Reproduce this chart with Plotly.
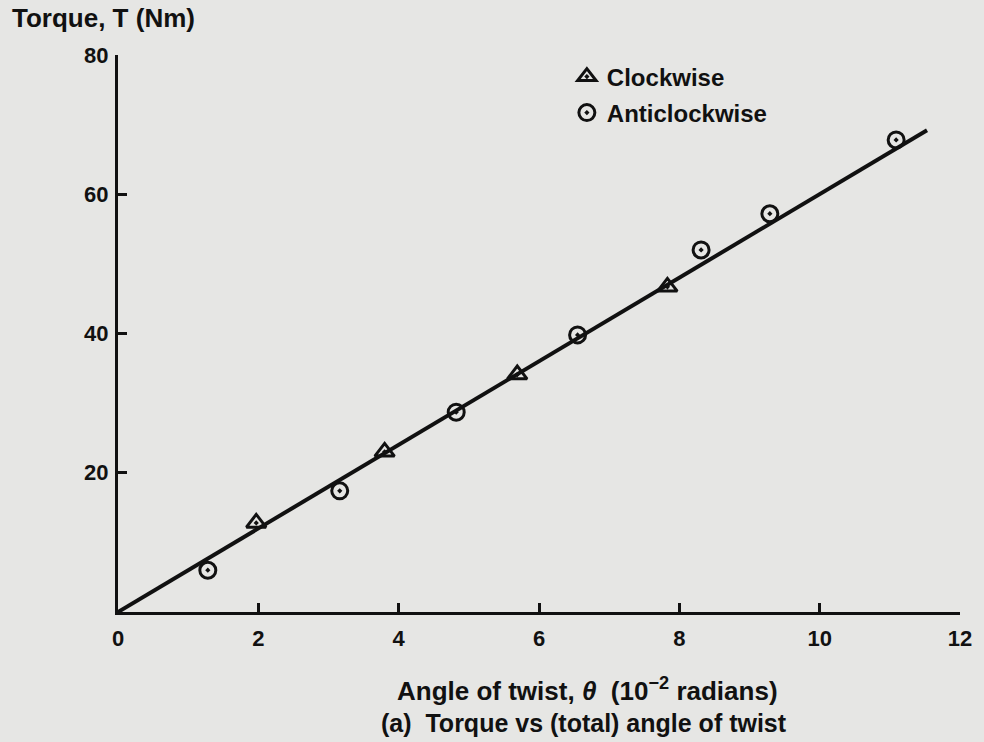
import plotly.graph_objects as go

# Data
cw_angle = [1.97, 3.80, 5.69, 7.83]          # 10^-2 rad
cw_torque = [12.8, 23.0, 34.1, 46.7]          # Nm
acw_angle = [1.28, 3.16, 4.82, 6.55, 8.31, 9.29, 11.09]
acw_torque = [6.0, 17.4, 28.7, 39.8, 52.0, 57.2, 67.8]
fit_angle = [0.0, 11.53]
fit_torque = [0.0, 69.2]

x_ticks = [0, 2, 4, 6, 8, 10, 12]
y_ticks = [20, 40, 60, 80]

BG = "#e6e6e4"
INK = "#111111"
FONT = "Liberation Sans"

W, H = 984, 742
ML, MR, MT, MB = 118, 20, 55, 130
PW, PH = W - ML - MR, H - MT - MB


def px2paper(px, py):
    return (px - ML) / PW, (H - MB - py) / PH


fig = go.Figure()
fig.add_trace(go.Scatter(x=fit_angle, y=fit_torque, mode="lines",
                         line=dict(color=INK, width=4), showlegend=False,
                         hoverinfo="skip"))
fig.add_trace(go.Scatter(x=cw_angle, y=cw_torque, mode="markers", name="<b>Clockwise</b>",
                         legend="legend",
                         marker=dict(symbol="triangle-up-open-dot", size=17,
                                     color=INK, line=dict(color=INK, width=3))))
fig.add_trace(go.Scatter(x=acw_angle, y=acw_torque, mode="markers", name="<b>Anticlockwise</b>",
                         legend="legend2",
                         marker=dict(symbol="circle-open-dot", size=16,
                                     color=INK, line=dict(color=INK, width=3))))

lx, ly1 = px2paper(569, 77)
_, ly2 = px2paper(569, 113)
leg_common = dict(xanchor="left", yanchor="middle", bgcolor="rgba(0,0,0,0)",
                  font=dict(size=24, family=FONT, color=INK), itemsizing="trace")

fig.update_layout(
    width=W, height=H,
    paper_bgcolor=BG, plot_bgcolor=BG,
    margin=dict(l=ML, r=MR, t=MT, b=MB),
    font=dict(family=FONT, size=22, color=INK),
    legend=dict(x=lx, y=ly1, **leg_common),
    legend2=dict(x=lx, y=ly2, **leg_common),
    xaxis=dict(range=[0, 12], tickvals=x_ticks, ticktext=[f"<b>{v}</b>" for v in x_ticks],
               showgrid=False, zeroline=False, showline=True, linecolor=INK, linewidth=3,
               ticks="inside", ticklen=9, tickwidth=3, tickcolor=INK, ticklabelstandoff=5),
    yaxis=dict(range=[0, 80], tickvals=y_ticks, ticktext=[f"<b>{v}</b>" for v in y_ticks],
               showgrid=False, zeroline=False, showline=True, linecolor=INK, linewidth=3,
               ticks="inside", ticklen=9, tickwidth=3, tickcolor=INK, ticklabelstandoff=2),
)

anns = [
    ("<b>Torque, T (Nm)</b>", 9, 18, "left", 26),
    ("<b>Angle of twist, <i>θ</i>  (10<sup>−2</sup> radians)</b>", 590, 689, "center", 26),
    ("<b>(a)  Torque vs (total) angle of twist</b>", 586, 723, "center", 25),
]
for text, px, py, xa, fs in anns:
    x, y = px2paper(px, py)
    fig.add_annotation(text=text, x=x, y=y, xref="paper", yref="paper", showarrow=False,
                       xanchor=xa, yanchor="middle", font=dict(size=fs, family=FONT, color=INK))

fig.write_html("out.html", config={"displayModeBar": False},
               post_script="document.body.style.margin='0';document.body.style.background='" + BG + "';")
